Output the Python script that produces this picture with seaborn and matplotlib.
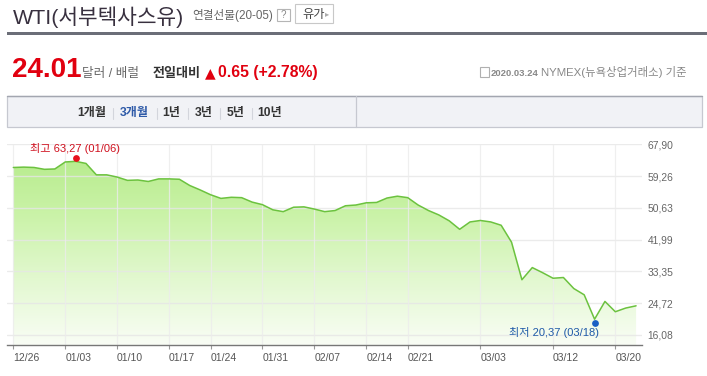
import numpy as np
import pandas as pd
import matplotlib
matplotlib.use('Agg')
import matplotlib.pyplot as plt
import matplotlib.transforms as mtransforms
from matplotlib.colors import LinearSegmentedColormap
from matplotlib.patches import Rectangle
from matplotlib.lines import Line2D
import seaborn as sns

# ---------------- data ----------------
dates = ['12/26', '12/27', '12/30', '12/31', '01/02', '01/03', '01/06', '01/07', '01/08', '01/09',
         '01/10', '01/13', '01/14', '01/15', '01/16', '01/17', '01/21', '01/22', '01/23', '01/24',
         '01/27', '01/28', '01/29', '01/30', '01/31', '02/03', '02/04', '02/05', '02/06', '02/07',
         '02/10', '02/11', '02/12', '02/13', '02/14', '02/18', '02/19', '02/20', '02/21', '02/24',
         '02/25', '02/26', '02/27', '02/28', '03/02', '03/03', '03/04', '03/05', '03/06', '03/09',
         '03/10', '03/11', '03/12', '03/13', '03/16', '03/17', '03/18', '03/19', '03/20', '03/23',
         '03/24']
prices = [61.6, 61.7, 61.6, 61.1, 61.2, 63.1, 63.27, 62.7, 59.6, 59.6,
          59.0, 58.1, 58.2, 57.8, 58.5, 58.5, 58.4, 56.7, 55.5, 54.2,
          53.2, 53.5, 53.4, 52.2, 51.5, 50.1, 49.6, 50.8, 50.9, 50.3,
          49.6, 49.9, 51.2, 51.4, 52.0, 52.1, 53.3, 53.8, 53.4, 51.4,
          49.9, 48.7, 47.1, 44.8, 46.8, 47.2, 46.8, 45.9, 41.3, 31.1,
          34.4, 33.0, 31.5, 31.7, 28.7, 27.0, 20.37, 25.2, 22.4, 23.4,
          24.01]
xtick_dates = ['12/26', '01/03', '01/10', '01/17', '01/24', '01/31', '02/07',
               '02/14', '02/21', '03/03', '03/12', '03/20']
ytick_values = [67.90, 59.26, 50.63, 41.99, 33.35, 24.72, 16.08]
ytick_labels = ['67,90', '59,26', '50,63', '41,99', '33,35', '24,72', '16,08']
tab_labels = ['1개월', '3개월', '1년', '3년', '5년', '10년']
high_label = '최고 63,27 (01/06)'
low_label = '최저 20,37 (03/18)'

# ---------------- setup ----------------
sns.set_theme(style='white')
plt.rcParams['font.family'] = ['Liberation Sans', 'Noto Sans CJK KR', 'DejaVu Sans']

W, H = 707, 376
fig = plt.figure(figsize=(W / 100, H / 100), dpi=100)
fig.patch.set_facecolor('white')


def fx(x):
    return x / W


def fy(y):
    return 1 - y / H


df = pd.DataFrame({'idx': np.arange(len(dates)), 'date': dates, 'price': prices})

# ---------------- chart ----------------
ax = fig.add_axes([fx(7), fy(345), (642 - 7) / W, (345 - 144.3) / H])
ax.set_facecolor('white')
ymin, ymax = 13.36, 67.90
xmin, xmax = -0.61, 60.57

poly = ax.fill_between(df['idx'], df['price'], ymin, color='none', lw=0)
cmap = LinearSegmentedColormap.from_list('g', ['#f9fdf5', '#e2f8cf', '#c9f2a6', '#b3ea87'])
grad = np.linspace(0, 1, 256).reshape(-1, 1)
im = ax.imshow(grad, extent=[xmin, xmax, ymin, ymax], origin='lower', aspect='auto',
               cmap=cmap, zorder=1, interpolation='bilinear')
im.set_clip_path(poly.get_paths()[0], ax.transData)

tick_idx = [dates.index(d) for d in xtick_dates]
for yv in ytick_values:
    ax.axhline(yv, color='#e6e6e6', lw=1, alpha=0.8, zorder=2)
for xi in tick_idx:
    ax.axvline(xi, color='#ececec', lw=0.9, alpha=0.8, zorder=2)

sns.lineplot(data=df, x='idx', y='price', ax=ax, color='#6cc23f', linewidth=1.1, zorder=3)

hi = df.loc[df['price'].idxmax()]
lo = df.loc[df['price'].idxmin()]
up = ax.transData + mtransforms.ScaledTranslation(0, 0.033, fig.dpi_scale_trans)
down = ax.transData + mtransforms.ScaledTranslation(0, -0.037, fig.dpi_scale_trans)
ax.scatter([hi['idx']], [hi['price']], s=24, color='#e8101c', zorder=4, transform=up, lw=0)
ax.scatter([lo['idx']], [lo['price']], s=24, color='#1a5fc4', zorder=4, transform=down, lw=0)
ax.annotate(high_label, (hi['idx'], hi['price']), xytext=(-1, 13), textcoords='offset pixels',
            ha='center', va='center', fontsize=8, color='#d0101e', zorder=5)
ax.annotate(low_label, (lo['idx'], lo['price']), xytext=(4, -13), textcoords='offset pixels',
            ha='right', va='center', fontsize=8, color='#1f5aa8', zorder=5)

ax.set_xlim(xmin, xmax)
ax.set_ylim(ymin, ymax)
ax.set_xlabel('')
ax.set_ylabel('')
ax.set_xticks(tick_idx)
ax.set_xticklabels(xtick_dates)
for lab in ax.get_xticklabels():
    lab.set_ha('left')
ax.yaxis.tick_right()
ax.set_yticks(ytick_values)
ax.set_yticklabels(ytick_labels)
ax.tick_params(axis='y', length=0, pad=4.1, labelsize=7.4, colors='#666666')
ax.tick_params(axis='x', length=3, width=0.8, color='#999999', pad=2.5, labelsize=7.5,
               labelcolor='#555555', bottom=True)
for s in ['top', 'left', 'right']:
    ax.spines[s].set_visible(False)
ax.spines['bottom'].set_color('#777777')
ax.spines['bottom'].set_linewidth(1)

# ---------------- header ----------------
fig.text(fx(13), fy(24), 'WTI(서부텍사스유)', fontsize=15.4, color='#38303f',
         va='baseline', ha='left')
fig.text(fx(192), fy(19), '연결선물(20-05)', fontsize=8.4, color='#666666', va='baseline', ha='left')
fig.add_artist(Rectangle((fx(277), fy(21)), 13 / W, 12 / H, transform=fig.transFigure,
                         fc='white', ec='#b5b5b5', lw=0.8))
fig.text(fx(283.5), fy(15), '?', fontsize=7, color='#888888', va='center', ha='center')
fig.add_artist(Rectangle((fx(295), fy(23)), 38 / W, 19 / H, transform=fig.transFigure,
                         fc='white', ec='#c8c8c8', lw=0.8))
fig.text(fx(302), fy(18), '유가', fontsize=8.8, color='#444444', va='baseline', ha='left')
fig.text(fx(325), fy(13.5), '▸', fontsize=6, color='#aaaaaa', va='center', ha='left',
         family=['DejaVu Sans'])
fig.add_artist(Rectangle((fx(7), fy(34.8)), 700 / W, 2.7 / H, transform=fig.transFigure,
                         fc='#6b6e78', ec='none'))

fig.text(fx(12), fy(77), '24.01', fontsize=20, fontweight='bold', color='#e1000f',
         va='baseline', ha='left')
fig.text(fx(82), fy(76.5), '달러 / 배럴', fontsize=9.1, color='#666666', va='baseline', ha='left')
fig.text(fx(153), fy(76.5), '전일대비', fontsize=9.4, fontweight='bold', color='#333333',
         va='baseline', ha='left')
fig.text(fx(205), fy(77), '▲', fontsize=10, color='#e1000f', va='baseline', ha='left',
         family=['DejaVu Sans'])
fig.text(fx(218), fy(77), '0.65 (+2.78%)', fontsize=11.3, fontweight='bold', color='#e1000f',
         va='baseline', ha='left')

fig.add_artist(Rectangle((fx(479.5), fy(76.5)), 9 / W, 10 / H, transform=fig.transFigure,
                         fc='white', ec='#b0b0b0', lw=0.8))
fig.text(fx(491), fy(76), '2020.03.24', fontsize=6.8, fontweight='bold', color='#888888',
         va='baseline', ha='left')
fig.text(fx(687), fy(76), 'NYMEX(뉴욕상업거래소) 기준', fontsize=8.2, color='#888888',
         va='baseline', ha='right')

# ---------------- period tabs ----------------
fig.add_artist(Rectangle((fx(7), fy(127.3)), 695 / W, 31.3 / H, transform=fig.transFigure,
                         fc='#f1f2f6', ec='#c6c8d0', lw=0.9))
fig.add_artist(Line2D([fx(7), fx(702)], [fy(96), fy(96)], transform=fig.transFigure,
                      color='#a3a6b0', lw=1))
fig.add_artist(Line2D([fx(356), fx(356)], [fy(96), fy(127.3)], transform=fig.transFigure,
                      color='#c6c8d0', lw=0.9))
tab_centers = [92, 134.5, 171.5, 204, 235.5, 270]
sep_x = [113, 157, 188, 220, 252]
for lab, cx in zip(tab_labels, tab_centers):
    col = '#2e5aa8' if lab == '3개월' else '#333333'
    fig.text(fx(cx), fy(113), lab, fontsize=8.7, fontweight='bold', color=col,
             va='center', ha='center')
for sx in sep_x:
    fig.add_artist(Line2D([fx(sx), fx(sx)], [fy(107.5), fy(119)], transform=fig.transFigure,
                          color='#d3d5dc', lw=0.8))

fig.savefig('out.png', dpi=100, facecolor='white')
